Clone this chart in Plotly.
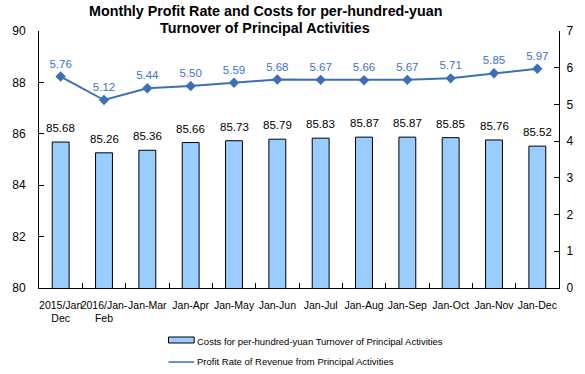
import plotly.graph_objects as go

categories = ["2015/Jan<br>Dec", "2016/Jan-<br>Feb", "Jan-Mar", "Jan-Apr", "Jan-May", "Jan-Jun",
              "Jan-Jul", "Jan-Aug", "Jan-Sep", "Jan-Oct", "Jan-Nov", "Jan-Dec"]
costs = [85.68, 85.26, 85.36, 85.66, 85.73, 85.79, 85.83, 85.87, 85.87, 85.85, 85.76, 85.52]
profit_rate = [5.76, 5.12, 5.44, 5.50, 5.59, 5.68, 5.67, 5.66, 5.67, 5.71, 5.85, 5.97]

title_lines = ["Monthly Profit Rate and Costs for per-hundred-yuan",
               "Turnover of Principal Activities"]
bar_name = "Costs for per-hundred-yuan Turnover of Principal Activities"
line_name = "Profit Rate of Revenue from Principal Activities"

FONT = "Liberation Sans, Arial, sans-serif"
BAR_FILL = "#99ccff"
LINE_COL = "#3d6fb8"

W, H = 585, 374
# plot area in window pixels
X0, X1, Y0, Y1 = 35, 561, 31, 288
L, R, T, B = X0, W - X1, Y0, H - Y1
pw, ph = X1 - X0, Y1 - Y0

def px_x(x):
    return (x - X0) / pw

def px_y(y):
    return (Y1 - y) / ph

fig = go.Figure()
fig.add_trace(go.Bar(
    x=categories, y=costs, name=bar_name,
    marker=dict(color=BAR_FILL, line=dict(color="#000000", width=1)),
    width=0.39, showlegend=False,
))
for c, v in zip(categories, costs):
    fig.add_annotation(x=c, y=v, xref="x", yref="y", text=f"{v:.2f}", showarrow=False,
                       yanchor="bottom", yshift=6,
                       font=dict(family=FONT, size=11.5, color="#000000"))

fig.add_trace(go.Scatter(
    x=categories, y=profit_rate, name=line_name, yaxis="y2",
    mode="lines+markers+text",
    line=dict(color=LINE_COL, width=2),
    marker=dict(symbol="diamond", size=8, color=LINE_COL),
    text=[f"{v:.2f}" for v in profit_rate], textposition="top center",
    textfont=dict(family=FONT, size=11.5, color="#3f74c4"),
    cliponaxis=False, showlegend=False,
))

def axis_common(size, standoff):
    return dict(showline=True, linecolor="#000000", linewidth=1, ticks="inside",
                ticklen=5, tickcolor="#000000", showgrid=False, zeroline=False,
                ticklabelstandoff=standoff,
                tickfont=dict(family=FONT, size=size, color="#000000"))

fig.update_layout(
    width=W, height=H,
    margin=dict(l=L, r=R, t=T, b=B),
    paper_bgcolor="white", plot_bgcolor="white",
    xaxis=dict(type="category", range=[-0.5, 11.5], tickson="boundaries", tickangle=0,
               **axis_common(10.5, 7)),
    yaxis=dict(range=[80, 90], dtick=2, **axis_common(12, 10)),
    yaxis2=dict(range=[0, 7], dtick=1, overlaying="y", side="right", **axis_common(12, 4)),
    bargap=0.6,
    font=dict(family=FONT),
)

# Title (two lines)
for txt, yy in zip(title_lines, [11, 28]):
    fig.add_annotation(xref="paper", yref="paper", x=px_x(264), y=px_y(yy),
                       text=f"<b>{txt}</b>", showarrow=False,
                       xanchor="center", yanchor="middle",
                       font=dict(family=FONT, size=14.3, color="#000000"))

# Custom legend
fig.add_shape(type="rect", xref="paper", yref="paper",
              x0=px_x(166), x1=px_x(192), y0=px_y(343), y1=px_y(337),
              fillcolor=BAR_FILL, line=dict(color="#000000", width=1))
fig.add_shape(type="line", xref="paper", yref="paper",
              x0=px_x(166), x1=px_x(192), y0=px_y(362), y1=px_y(362),
              line=dict(color=LINE_COL, width=1.5))
fig.add_trace(go.Scatter(x=[px_x(179)], y=[px_y(362)], xaxis="x3", yaxis="y3",
                         mode="markers", marker=dict(symbol="diamond", size=6, color=LINE_COL),
                         showlegend=False, hoverinfo="skip", cliponaxis=False))
fig.update_layout(
    xaxis3=dict(range=[0, 1], visible=False, domain=[0, 1], anchor="y3", overlaying="x"),
    yaxis3=dict(range=[0, 1], visible=False, domain=[0, 1], anchor="x3", overlaying="y"),
)
fig.add_annotation(xref="paper", yref="paper", x=px_x(193), y=px_y(341), text=bar_name,
                   showarrow=False, xanchor="left", yanchor="middle",
                   font=dict(family=FONT, size=9.5, color="#000000"))
fig.add_annotation(xref="paper", yref="paper", x=px_x(193), y=px_y(362), text=line_name,
                   showarrow=False, xanchor="left", yanchor="middle",
                   font=dict(family=FONT, size=9.5, color="#000000"))

fig.write_html("out.html", config={"displayModeBar": False},
               post_script="document.body.style.margin='0';")
